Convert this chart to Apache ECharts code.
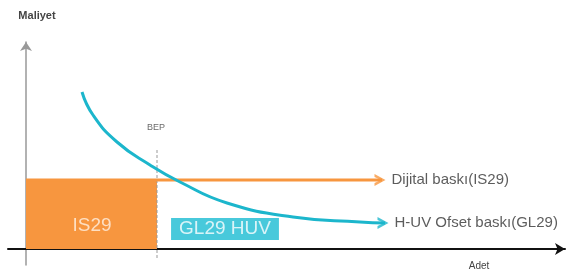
<!DOCTYPE html>
<html>
<head>
<meta charset="utf-8">
<script src="https://cdn.jsdelivr.net/npm/echarts@6/dist/echarts.min.js"></script>
<style>
  html, body { margin: 0; padding: 0; background: #fff; }
  #main { width: 566px; height: 273px; }
</style>
</head>
<body>
<div id="main"></div>
<script>
  // kavramsal grafik: maliyet / adet, BEP noktasi
  var bepX = 131
  var dijitalCost = 69
  var dijitalEndX = 359
  // H-UV ofset maliyet egrisi (adet, maliyet)
  var ofsetCurve = [
    [56, 157], [67, 134], [91, 107], [124, 84], [154, 67],
    [201, 46], [267, 32], [334, 27], [362, 26]
  ]
  var bepLine = [[bepX, -9], [bepX, 99]]
  var labels = {
    dijital: 'Dijital baskı(IS29)',
    ofset: 'H-UV Ofset baskı(GL29)',
    is29: 'IS29',
    gl29: 'GL29 HUV',
    bep: 'BEP'
  }

  var orange = '#F7963F'
  var teal = '#1CB6CC'
  var chevron = 'path://M0,0L12,7L0,14L0,10.6L7,7L0,3.4Z'

  var lastPt = ofsetCurve[ofsetCurve.length - 1]

  var myChart = echarts.init(document.getElementById('main'))
  var option = {
    animation: false,
    textStyle: { fontFamily: 'Liberation Sans, Arial, sans-serif' },
    grid: { left: 8, right: 1, top: 42, bottom: 8 },
    xAxis: {
      type: 'value', min: -18, max: 539,
      axisLine: { onZero: true, symbol: ['none', 'arrow'], symbolSize: [9, 10], lineStyle: { color: '#111', width: 2 } },
      axisTick: { show: false }, axisLabel: { show: false }, splitLine: { show: false },
      name: 'Adet', nameLocation: 'end', nameGap: -86,
      nameTextStyle: { color: '#444', fontSize: 10, align: 'center', verticalAlign: 'top', padding: [12, 0, 0, 0] }
    },
    yAxis: {
      type: 'value', min: -16, max: 207,
      axisLine: { onZero: true, symbol: ['none', 'arrow'], symbolSize: [9, 9], lineStyle: { color: '#999', width: 1.5 } },
      axisTick: { show: false }, axisLabel: { show: false }, splitLine: { show: false },
      name: 'Maliyet', nameLocation: 'end', nameGap: 21,
      nameTextStyle: { color: '#444', fontSize: 11, fontWeight: 'bold', align: 'center', padding: [0, 0, 0, 22] }
    },
    series: [
      {
        // IS29 alan
        type: 'line', data: [[0, dijitalCost], [bepX, dijitalCost]],
        symbol: 'none', lineStyle: { width: 0 },
        areaStyle: { color: orange, opacity: 1 }, z: 1
      },
      {
        type: 'line', data: bepLine, symbol: 'none',
        lineStyle: { color: '#999', width: 1, type: [3, 2] }, z: 3
      },
      {
        // dijital baski maliyet cizgisi
        type: 'line', data: [[0, dijitalCost], [dijitalEndX - 3, dijitalCost]],
        symbol: 'none', lineStyle: { color: orange, width: 3 }, z: 4
      },
      {
        // ofset egrisi
        type: 'line', data: ofsetCurve.slice(0, -1).concat([[lastPt[0] - 3, lastPt[1]]]),
        smooth: 0.5, symbol: 'none', lineStyle: { color: teal, width: 3 }, z: 5
      },
      {
        // ok uclari + etiketler
        type: 'scatter', symbol: chevron, symbolSize: [11, 12], symbolOffset: [-5, 0], z: 6,
        data: [
          { value: [dijitalEndX, dijitalCost], itemStyle: { color: orange }, label: { formatter: labels.dijital } },
          { value: lastPt, itemStyle: { color: teal }, label: { formatter: labels.ofset } }
        ],
        label: { show: true, position: 'right', distance: 6, color: '#333', fontSize: 15 }
      },
      {
        type: 'scatter', symbolSize: 0, z: 7,
        data: [
          { value: [bepX - 1, 121], label: { formatter: labels.bep, color: '#444', fontSize: 9 } },
          { value: [66, 23], label: { formatter: labels.is29, color: '#FFF1E4', fontSize: 19 } },
          {
            value: [199, 20],
            label: {
              formatter: labels.gl29, color: '#fff', fontSize: 19,
              backgroundColor: '#1ABBD2', padding: [2, 8, 1, 8]
            }
          }
        ],
        label: { show: true, position: 'inside' }
      }
    ]
  }
  option && myChart.setOption(option)
</script>
</body>
</html>
